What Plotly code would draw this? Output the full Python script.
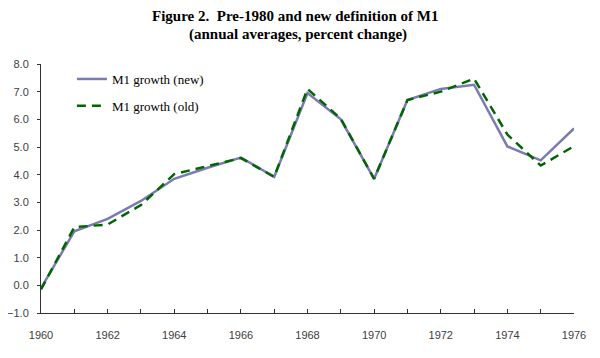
import plotly.graph_objs as go

years = list(range(1960, 1977))
m1_new = [-0.1, 1.95, 2.4, 3.05, 3.85, 4.25, 4.62, 3.92, 6.95, 6.0, 3.85,
          6.7, 7.1, 7.25, 5.02, 4.52, 5.67]
m1_old = [-0.15, 2.1, 2.2, 2.9, 4.02, 4.3, 4.6, 3.92, 7.1, 6.02, 3.85,
          6.7, 7.0, 7.47, 5.45, 4.33, 5.03]

fig = go.Figure()

fig.add_trace(go.Scatter(x=years, y=m1_new, mode='lines',
                         name='M1 growth (new)', legendgroup='new',
                         line={'color': '#7b7bb3', 'width': 2.5}))
fig.add_trace(go.Scatter(x=years, y=m1_old, mode='lines',
                         name='M1 growth (old)', legendgroup='old',
                         line={'color': '#006600', 'width': 2.5, 'dash': '9px,6px'}))

tick_font = {'family': 'Liberation Sans', 'size': 11, 'color': '#404040'}
title_font = {'family': 'Liberation Serif', 'size': 15, 'color': 'black'}

# page body has an 8px default margin, so the figure is 8px smaller
fig.layout.update(
    width=592, height=350,
    margin={'l': 33, 'r': 26, 't': 56, 'b': 45},
    paper_bgcolor='white', plot_bgcolor='white',
    xaxis={'range': [1960, 1976], 'dtick': 2, 'tick0': 1960,
           'automargin': False,
           'showgrid': False, 'zeroline': False,
           'showline': True, 'linecolor': '#333333', 'linewidth': 1,
           'ticks': 'inside', 'ticklen': 4, 'tickcolor': '#333333',
           'ticklabelstandoff': 12,
           'minor': {'dtick': 1, 'ticks': 'inside', 'ticklen': 4,
                     'tickcolor': '#333333', 'showgrid': False},
           'tickfont': tick_font},
    yaxis={'range': [-1, 8], 'dtick': 1, 'tickformat': '.1f',
           'automargin': False,
           'showgrid': False, 'zeroline': False,
           'showline': True, 'linecolor': '#333333', 'linewidth': 1,
           'ticks': 'outside', 'ticklen': 3, 'tickcolor': '#333333',
           'ticklabelstandoff': 6,
           'tickfont': tick_font},
    legend={'x': 0.058, 'y': 1.0, 'xanchor': 'left', 'yanchor': 'top',
            'bgcolor': 'rgba(0,0,0,0)', 'tracegroupgap': 7,
            'traceorder': 'grouped',
            'font': {'family': 'Liberation Serif', 'size': 13, 'color': 'black'}},
    showlegend=True,
    annotations=[
        dict(text='<b>Figure 2.  Pre-1980 and new definition of M1</b>',
             xref='paper', yref='paper', x=0.478, y=(313 - 16) / 249,
             xanchor='center', yanchor='middle', showarrow=False, font=title_font),
        dict(text='<b>(annual averages, percent change)</b>',
             xref='paper', yref='paper', x=0.482, y=(313 - 34) / 249,
             xanchor='center', yanchor='middle', showarrow=False, font=title_font),
    ]
)

fig.write_html("out.html")
